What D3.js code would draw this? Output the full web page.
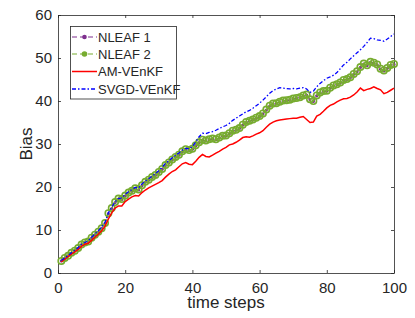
<!DOCTYPE html>
<html>
<head>
<meta charset="utf-8">
<script src="https://cdn.jsdelivr.net/npm/d3@7"></script>
<style>
  body { margin: 0; background: #fff; overflow: hidden; }
  svg { display: block; }
  text { font-family: "Liberation Sans", Arial, sans-serif; fill: #262626; }
</style>
</head>
<body>
<svg id="chart"></svg>
<script>
// bias curves, one value per time step 1..100
const steps = d3.range(1, 101);

const nleaf1 = [2.8, 3.4, 4.0, 4.6, 5.2, 5.7, 6.6, 7.0, 7.3, 8.1,
  8.9, 9.5, 10.4, 11.5, 13.8, 15.0, 16.4, 17.2, 17.1, 17.9,
  18.6, 19.0, 19.6, 19.3, 20.3, 21.1, 21.6, 22.2, 22.7, 23.4,
  24.1, 25.0, 25.6, 26.3, 26.9, 27.4, 28.2, 28.7, 28.5, 28.8,
  29.6, 30.3, 30.9, 30.7, 31.0, 31.2, 31.0, 31.4, 31.8, 31.9,
  32.4, 33.0, 33.2, 33.6, 34.4, 35.0, 35.3, 35.6, 36.0, 36.4,
  37.0, 37.9, 38.8, 39.3, 39.4, 39.7, 40.0, 40.1, 40.2, 40.5,
  40.6, 40.8, 41.2, 41.4, 40.3, 39.9, 41.2, 41.9, 42.2, 42.3,
  43.0, 43.5, 43.8, 44.2, 44.8, 45.0, 45.4, 46.2, 46.8, 47.8,
  48.6, 48.2, 49.0, 48.8, 48.4, 47.4, 47.0, 47.6, 48.3, 48.5];

const nleaf2 = [2.8, 3.5, 4.0, 4.7, 5.2, 5.8, 6.6, 7.1, 7.3, 8.2,
  8.9, 9.6, 10.4, 11.6, 13.9, 15.1, 16.5, 17.3, 17.2, 18.0,
  18.7, 19.1, 19.7, 19.4, 20.4, 21.2, 21.7, 22.3, 22.8, 23.5,
  24.2, 25.1, 25.7, 26.4, 27.0, 27.5, 28.3, 28.8, 28.6, 28.9,
  29.7, 30.4, 31.0, 30.8, 31.1, 31.3, 31.1, 31.5, 31.9, 32.0,
  32.5, 33.1, 33.3, 33.7, 34.5, 35.1, 35.4, 35.7, 36.1, 36.5,
  37.1, 38.0, 38.9, 39.4, 39.5, 39.8, 40.1, 40.2, 40.3, 40.6,
  40.7, 40.9, 41.3, 41.5, 40.4, 40.0, 41.3, 42.0, 42.3, 42.4,
  43.1, 43.6, 43.9, 44.3, 44.9, 45.1, 45.5, 46.3, 46.9, 47.9,
  48.7, 48.3, 49.1, 48.9, 48.5, 47.5, 47.1, 47.7, 48.4, 48.6];

const amVenkf = [2.6, 3.2, 3.8, 4.4, 4.9, 5.5, 6.2, 6.7, 6.9, 7.6,
  8.3, 9.0, 9.8, 10.9, 12.6, 14.0, 15.1, 15.6, 15.6, 16.6,
  17.2, 17.7, 18.0, 17.9, 18.7, 19.3, 19.8, 20.2, 20.6, 21.0,
  21.5, 22.3, 23.0, 23.6, 24.0, 24.7, 25.4, 25.7, 25.3, 25.2,
  26.0, 26.9, 27.6, 27.1, 27.0, 27.4, 27.9, 28.3, 28.8, 29.2,
  29.8, 30.0, 30.4, 30.9, 31.5, 31.7, 31.6, 31.9, 32.3, 32.6,
  33.1, 33.9, 34.6, 35.1, 35.4, 35.6, 35.7, 35.8, 35.9, 36.0,
  36.0, 36.2, 36.4, 35.7, 35.0, 35.1, 36.5, 36.9, 37.6, 38.4,
  39.0, 39.3, 39.8, 40.2, 40.5, 40.6, 40.9, 41.4, 42.1, 43.0,
  42.4, 42.7, 42.9, 43.3, 42.9, 42.6, 41.7, 42.0, 42.5, 43.0];

const svgdVenkf = [2.9, 3.5, 4.1, 4.7, 5.3, 5.9, 6.7, 7.1, 7.5, 8.3,
  9.1, 9.8, 10.7, 11.8, 14.0, 15.3, 16.6, 17.3, 17.5, 18.3,
  18.9, 19.4, 19.9, 19.8, 20.7, 21.4, 21.9, 22.5, 23.1, 23.8,
  24.6, 25.5, 26.1, 26.8, 27.4, 27.9, 28.6, 29.0, 28.9, 29.4,
  30.5, 31.7, 32.5, 32.4, 32.7, 32.9, 33.2, 33.6, 34.0, 34.3,
  34.8, 35.5, 36.0, 36.5, 37.0, 37.5, 37.8, 38.3, 38.9, 39.5,
  40.2, 41.0, 41.8, 42.4, 42.8, 43.1, 43.0, 42.9, 42.8, 42.9,
  42.8, 43.0, 43.1, 42.8, 42.0, 42.3, 43.3, 44.1, 44.7, 45.3,
  45.6, 46.0, 46.6, 47.5, 48.4, 49.0, 49.8, 50.5, 51.2, 51.9,
  52.7, 53.6, 54.6, 54.5, 54.2, 54.1, 53.9, 54.4, 55.0, 55.6];

const seriesNames = ["NLEAF 1", "NLEAF 2", "AM-VEnKF", "SVGD-VEnKF"];
const xTicks = [0, 20, 40, 60, 80, 100];
const yTicks = [0, 10, 20, 30, 40, 50, 60];

const width = 415;
const height = 318;
const marginLeft = 58, marginTop = 15;
const innerWidth = 336;
const innerHeight = 258;

const svg = d3.select("#chart").attr("width", width).attr("height", height);
const g = svg.append("g").attr("transform", `translate(${marginLeft},${marginTop})`);

const x = d3.scaleLinear().domain([0, 100]).range([0, innerWidth]);
const y = d3.scaleLinear().domain([0, 60]).range([innerHeight, 0]);

const axisColor = "#262626";

// axes, matlab style: ticks inside, box round the plot
g.append("g")
  .attr("transform", `translate(0,${innerHeight})`)
  .call(d3.axisBottom(x).tickValues(xTicks).tickSizeInner(-3).tickSizeOuter(0).tickPadding(9));
g.append("g")
  .call(d3.axisLeft(y).tickValues(yTicks).tickSizeInner(-3).tickSizeOuter(0).tickPadding(6));
const topAxis = g.append("g")
  .call(d3.axisTop(x).tickValues(xTicks).tickSizeInner(-3).tickSizeOuter(0));
const rightAxis = g.append("g")
  .attr("transform", `translate(${innerWidth},0)`)
  .call(d3.axisRight(y).tickValues(yTicks).tickSizeInner(-3).tickSizeOuter(0));
topAxis.selectAll("text").remove();
rightAxis.selectAll("text").remove();

g.selectAll(".domain").attr("stroke", axisColor).attr("stroke-width", 0.8);
g.selectAll(".tick line").attr("stroke", axisColor).attr("stroke-width", 0.8);
g.selectAll(".tick text").attr("font-size", 15).attr("fill", axisColor)
  .style("font-family", "'Liberation Sans', Arial, sans-serif");

g.append("text")
  .attr("x", innerWidth / 2)
  .attr("y", innerHeight + 35)
  .attr("text-anchor", "middle")
  .attr("font-size", 17)
  .text("time steps");

g.append("text")
  .attr("transform", "rotate(-90)")
  .attr("x", -innerHeight / 2)
  .attr("y", -26)
  .attr("text-anchor", "middle")
  .attr("font-size", 17)
  .text("Bias");

const line = d3.line()
  .x((d, i) => x(steps[i]))
  .y(d => y(d));

// NLEAF 1
g.append("path").datum(nleaf1)
  .attr("d", line).attr("fill", "none")
  .attr("stroke", "#7E2F8E").attr("stroke-width", 1.2).attr("stroke-dasharray", "5,3");
g.selectAll(".m1").data(nleaf1).enter().append("circle")
  .attr("cx", (d, i) => x(steps[i])).attr("cy", d => y(d))
  .attr("r", 1.6).attr("fill", "#7E2F8E");

// NLEAF 2
g.append("path").datum(nleaf2)
  .attr("d", line).attr("fill", "none")
  .attr("stroke", "#77AC30").attr("stroke-width", 1.2).attr("stroke-dasharray", "5,3");
g.selectAll(".m2").data(nleaf2).enter().append("circle")
  .attr("cx", (d, i) => x(steps[i])).attr("cy", d => y(d))
  .attr("r", 3.2).attr("fill", "none")
  .attr("stroke", "#77AC30").attr("stroke-width", 1.6);

// AM-VEnKF
g.append("path").datum(amVenkf)
  .attr("d", line).attr("fill", "none")
  .attr("stroke", "#FF0000").attr("stroke-width", 1.5);

// SVGD-VEnKF
g.append("path").datum(svgdVenkf)
  .attr("d", line).attr("fill", "none")
  .attr("stroke", "#0000FF").attr("stroke-width", 1.3).attr("stroke-dasharray", "4,2,1.5,2");

// legend
const legend = svg.append("g");
legend.append("rect")
  .attr("x", 70.5).attr("y", 26.5).attr("width", 106).attr("height", 72.5)
  .attr("fill", "#fff").attr("stroke", axisColor).attr("stroke-width", 0.8);

const legendStyles = [
  { color: "#7E2F8E", dash: "5,3", width: 1.2, marker: 2.3 },
  { color: "#77AC30", dash: "5,3", width: 1.2, marker: 2.8 },
  { color: "#FF0000", dash: null, width: 1.5, marker: 0 },
  { color: "#0000FF", dash: "4,2,1.5,2", width: 1.3, marker: 0 }
];
const legendY = [37, 54, 71.5, 89];

seriesNames.forEach((name, i) => {
  const s = legendStyles[i];
  legend.append("line")
    .attr("x1", 72).attr("x2", 97).attr("y1", legendY[i]).attr("y2", legendY[i])
    .attr("stroke", s.color).attr("stroke-width", s.width)
    .attr("stroke-dasharray", s.dash);
  if (s.marker) {
    legend.append("circle")
      .attr("cx", 84.5).attr("cy", legendY[i]).attr("r", s.marker)
      .attr("fill", s.color);
  }
  legend.append("text")
    .attr("x", 98).attr("y", legendY[i] + 4.5)
    .attr("font-size", 13)
    .text(name);
});
</script>
</body>
</html>
